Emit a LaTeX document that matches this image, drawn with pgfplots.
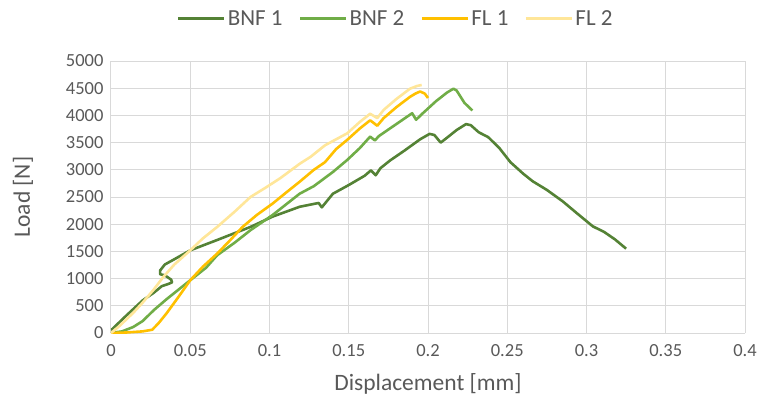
\documentclass[border=0pt]{standalone}
\usepackage{pgfplots}
\pgfplotsset{compat=1.18}
\usepackage{fontspec}
\setmainfont{Carlito}
\definecolor{bnfa}{HTML}{548235}
\definecolor{bnfb}{HTML}{70AD47}
\definecolor{fla}{HTML}{FFC000}
\definecolor{flb}{HTML}{FFE699}
\definecolor{txt}{HTML}{595959}
\definecolor{gridc}{HTML}{D9D9D9}
\begin{document}
\begin{tikzpicture}
\begin{axis}[
    scale only axis,
    width=634pt, height=272pt,
    xmin=0, xmax=0.4, ymin=0, ymax=5000,
    xtick={0,0.05,...,0.4},
    xticklabels={0,0.05,0.1,0.15,0.2,0.25,0.3,0.35,0.4},
    ytick={0,500,...,5000},
    grid=major,
    grid style={gridc, line width=1pt},
    axis line style={draw=none},
    major tick length=0pt,
    tick label style={font=\fontsize{18.5}{20}\selectfont, text=txt},
    /pgf/number format/assume math mode=true,
    scaled ticks=false,
    yticklabel style={/pgf/number format/1000 sep={}, xshift=-4pt},
    xticklabel style={yshift=-8pt},
    xlabel={Displacement [mm]},
    ylabel={Load [N]},
    label style={font=\fontsize{23.5}{25}\selectfont, text=txt},
    xlabel style={yshift=-10pt},
    ylabel style={yshift=26pt},
    legend columns=4,
    legend style={at={(0.449,1.0)}, anchor=south, yshift=30pt, draw=none,
        font=\fontsize{23}{25}\selectfont, text=txt,
        /tikz/every even column/.append style={column sep=14pt}},
    legend image code/.code={\draw[#1, line width=3pt] (0pt,0pt) -- (46pt,0pt);},
    every axis plot/.append style={line width=2.6pt, line join=round},
]
\addplot[color=bnfa] coordinates {
(0,50) (0.01,330) (0.02,600) (0.027,740) (0.032,860) (0.036,900) (0.0385,930)
(0.038,980) (0.034,1060) (0.031,1080) (0.031,1150) (0.034,1260) (0.039,1340)
(0.05,1520) (0.067,1710) (0.088,1950) (0.102,2140) (0.119,2320) (0.131,2390)
(0.133,2310) (0.14,2560) (0.15,2720) (0.16,2890) (0.164,2990) (0.167,2900)
(0.17,3030) (0.176,3170) (0.185,3350) (0.195,3560) (0.201,3660) (0.204,3640)
(0.208,3500) (0.212,3590) (0.218,3730) (0.224,3840) (0.227,3820) (0.232,3690)
(0.238,3600) (0.245,3400) (0.252,3140) (0.26,2930) (0.266,2790) (0.275,2630)
(0.285,2420) (0.294,2200) (0.304,1960) (0.311,1860) (0.318,1720) (0.325,1550)
};
\addlegendentry{BNF 1}
\addplot[color=bnfb] coordinates {
(0,0) (0.007,30) (0.014,110) (0.02,220) (0.027,420) (0.035,620) (0.05,970)
(0.06,1200) (0.067,1430) (0.078,1660) (0.088,1890) (0.102,2170) (0.119,2560)
(0.128,2700) (0.14,2960) (0.149,3180) (0.157,3400) (0.1635,3610) (0.1665,3540)
(0.169,3620) (0.18,3840) (0.19,4040) (0.1925,3920) (0.196,4020) (0.205,4260)
(0.212,4420) (0.216,4490) (0.218,4460) (0.223,4230) (0.228,4090)
};
\addlegendentry{BNF 2}
\addplot[color=fla] coordinates {
(0,0) (0.01,10) (0.02,30) (0.026,60) (0.03,180) (0.035,360) (0.042,640)
(0.05,970) (0.058,1220) (0.067,1460) (0.075,1700) (0.083,1950) (0.092,2170)
(0.102,2380) (0.11,2570) (0.119,2780) (0.128,3000) (0.135,3140) (0.142,3380)
(0.149,3550) (0.157,3760) (0.1635,3910) (0.168,3810) (0.172,3950) (0.18,4150)
(0.1886,4340) (0.192,4400) (0.195,4440) (0.198,4400) (0.2,4320)
};
\addlegendentry{FL 1}
\addplot[color=flb] coordinates {
(0,0) (0.005,120) (0.014,370) (0.02,560) (0.027,800) (0.033,1030) (0.04,1260)
(0.05,1520) (0.058,1740) (0.067,1950) (0.078,2230) (0.088,2500) (0.098,2680)
(0.107,2850) (0.119,3110) (0.126,3240) (0.135,3450) (0.149,3670) (0.157,3880)
(0.1635,4030) (0.168,3950) (0.172,4100) (0.18,4300) (0.1886,4490) (0.193,4540)
(0.196,4560)
};
\addlegendentry{FL 2}
\coordinate (bl) at (rel axis cs:0,0);
\coordinate (tr) at (rel axis cs:1,1);
\end{axis}
\pgfresetboundingbox
\path ([xshift=-111pt,yshift=-74pt]bl) rectangle ([xshift=16pt,yshift=61pt]tr);
\end{tikzpicture}
\end{document}
